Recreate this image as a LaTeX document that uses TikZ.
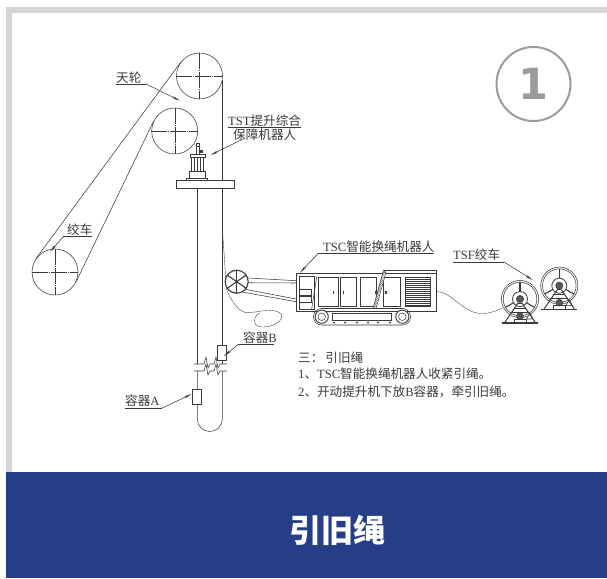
\documentclass[tikz,border=0pt]{standalone}
\usepackage{fontspec}
\setmainfont{Liberation Serif}
\newfontfamily\cjk{Noto Sans CJK SC}
\newfontfamily\numfont{DejaVu Sans}
\usetikzlibrary{arrows.meta}
\definecolor{framegray}{HTML}{D4D5D6}
\definecolor{bandblue}{HTML}{263E87}
\definecolor{markgray}{HTML}{9A9B9D}
\definecolor{inkgray}{HTML}{3A3A3A}
\tikzset{
  wire/.style={draw=inkgray,line width=.55pt},
  fine/.style={draw=inkgray,line width=.35pt},
  lead/.style={draw=inkgray,line width=.55pt,-{Stealth[length=8pt,width=2.4pt]}},
  sheave/.style={circle,draw=inkgray,line width=.55pt,minimum size=46pt,inner sep=0pt},
  label/.style={font=\fontsize{12.6}{13}\selectfont,text=inkgray,inner sep=0pt,anchor=west},
  center line/.style={draw=inkgray,line width=.35pt,dash pattern=on 16pt off 1pt on 1pt off 1pt}
}
% one reel of the TSF winch, #1 = centre
\newcommand{\tsfreel}[1]{
  \begin{scope}[shift={#1}]
    \draw[wire] (0,0) circle [radius=18.6];
    \draw[wire] (0,0) circle [radius=16.8];
    \draw[wire,line width=.8pt] (0,0) circle [radius=7.5];
    \draw[wire,fill=inkgray!85] (0,0) circle [radius=3.6];
    \foreach \ang in {30,150,270}
      \draw[wire,line width=1.1pt] (\ang:7.5) -- (\ang:17);
    \draw[wire,line width=1pt] (-2,4) -- (-15,23) (2,4) -- (15,23);
    \draw[wire,line width=.8pt] (-2,4) -- (2,4) (-6,9) -- (6,9) (-9,13) -- (9,13);
    \draw[wire,line width=1.8pt] (-18,23.8) -- (18,23.8);
    \draw[wire,fill=inkgray!85] (0,17) circle [radius=3.4];
    \draw[wire] (6.5,20) -- (10,14) -- (13,20) -- cycle;
    \draw[wire] (-6,23) -- (-6,20) -- (6,20) -- (6,23);
  \end{scope}
}
\begin{document}
\begin{tikzpicture}[x=1pt,y=-1pt]
  \useasboundingbox (0,0) rectangle (607,578);
  % frame and band
  \fill[framegray] (6,7) rectangle (607,13);
  \fill[framegray] (6,7) rectangle (11.6,472);
  \fill[bandblue] (6,472) rectangle (607,578);
  \node[text=white,inner sep=0pt,font=\cjk\bfseries\fontsize{32}{34}\selectfont] (title) at (337,530) {引旧绳};
  \node[circle,draw=markgray,line width=2pt,minimum size=74pt,inner sep=0pt,text=markgray,
    font=\numfont\bfseries\fontsize{43}{45}\selectfont] (step) at (533.5,84) {1};

  % sheaves and winch
  \node[sheave] (top) at (199.5,76) {};
  \node[sheave] (second) at (174.7,131) {};
  \node[sheave] (winch) at (55,272) {};
  \foreach \wheel in {top,second,winch}{
    \path[center line] (\wheel.west) -- (\wheel.east);
    \path[center line] (\wheel.north) -- (\wheel.south);
  }
  \path[wire] (top.143) -- (winch.143);
  \path[wire] (second.154) -- (winch.-26);

  % shaft
  \coordinate (leftA) at (197.3,188);
  \coordinate (leftB) at (197.3,364);
  \coordinate (leftC) at (197.3,371);
  \coordinate (leftD) at (197.3,419);
  \coordinate (rightA) at (222.3,80);
  \coordinate (rightB) at (222.3,364);
  \coordinate (rightC) at (222.3,371);
  \coordinate (rightD) at (222.3,419);
  \path[wire] (leftA) -- (leftB);
  \path[wire] (rightA) -- (rightB);
  \path[wire] (leftC) -- (leftD) arc [start angle=180,end angle=360,x radius=12.5,y radius=-12.5] -- (rightC);
  \foreach \yy in {364,371}
    \draw[wire] (194,\yy) -- (204,\yy) -- (206,\yy-7) -- (208,\yy+4) -- (210,\yy) -- (214,\yy) -- (216,\yy-7) -- (218,\yy+4) -- (220,\yy) -- (227,\yy);
  \node[draw=inkgray,fill=white,line width=.55pt,inner sep=0pt,minimum width=9pt,minimum height=15pt] (boxB) at (222.2,352.5) {};
  \node[draw=inkgray,fill=white,line width=.55pt,inner sep=0pt,minimum width=9pt,minimum height=15.5pt] (boxA) at (196.8,396.8) {};

  % platform and TST robot
  \node[draw=inkgray,fill=white,line width=.55pt,inner sep=0pt,minimum width=57.5pt,minimum height=7.6pt] (deck) at (205.4,184.5) {};
  \draw[wire] (186.7,180.7) -- (186.7,178) -- (207.7,178) -- (207.7,180.7);
  \draw[wire] (189,178) -- (189,171.7) -- (205,171.7) -- (205,178);
  \draw[wire] (191.7,171.7) -- (191.7,157) (203,171.7) -- (203,157);
  \draw[wire] (190,154) rectangle (205,157);
  \draw[wire,line width=.9pt] (194.5,171.7) -- (194.5,157) (197.5,171.7) -- (197.5,157) (200.5,171.7) -- (200.5,157);
  \draw[wire] (196,154) -- (196,143) -- (199,143) -- (199,154);
  \fill[inkgray] (199,149.5) rectangle (202.5,152.5);
  \draw[wire,line width=.9pt] (195.5,146) -- (199.5,146);

  % TSC machine
  \draw[wire] (296,273.3) rectangle (436,311.7);
  \draw[wire] (383,270.7) -- (436,270.7) -- (436,273.3);
  \draw[wire,line width=1pt] (436,271) -- (436,311.7);
  \draw[wire] (299,276.7) rectangle (314,309);
  \draw[wire] (299,289) rectangle (311,295);
  \draw[wire] (299,296.5) rectangle (311,302);
  \draw[wire] (316.7,276.7) -- (311.7,309);
  \foreach \xa/\xb in {318.3/338.3,340.7/356,360.7/376.7,383.3/400}
    \draw[wire] (\xa,277.3) rectangle (\xb,306.7);
  \foreach \xx in {332.5,342.5,374.5,385}
    \fill[inkgray] (\xx,290.5) rectangle (\xx+1.6,293.5);
  \draw[wire] (405,277.3) rectangle (430.7,306.7);
  \foreach \yy in {279,281,...,305}
    \draw[fine] (405,\yy) -- (430.7,\yy);
  \draw[wire,fill=white] (383,272) -- (386,272) -- (376,308.5) -- (373,308.5) -- cycle;
  \foreach \tt in {0,.07,...,1}
    \draw[fine] ({373+\tt*10},{308.5-\tt*36.5}) -- ({376+\tt*10},{305.5-\tt*36.5});
  % crawler
  \draw[wire,rounded corners=8pt] (313.5,308.5) rectangle (410.5,325);
  \draw[wire] (332,313) rectangle (391.7,320.7);
  \foreach \xx in {321.7,402.3}{
    \draw[wire,line width=.9pt,fill=white] (\xx,316.7) circle [radius=6.6];
    \draw[wire] (\xx,316.7) circle [radius=3.8];
  }
  \foreach \xx in {334,345,357,368,378,390}
    \fill[inkgray] (\xx,322.6) circle [radius=1.1];

  % pulley at the machine
  \node[circle,draw=inkgray,line width=1.1pt,minimum size=23pt,inner sep=0pt] (pulley) at (236.7,281.7) {};
  \foreach \ang in {35,145,215,325}
    \draw[wire,line width=1.1pt] (pulley.center) -- (pulley.\ang);
  \draw[wire] (pulley.90) -- (pulley.-90);
  \coordinate (machTop) at (296,280.7);
  \coordinate (machTopB) at (296,283);
  \coordinate (machLow) at (296,299);
  \coordinate (machLowB) at (296,301.7);
  \draw[wire] (pulley.18) -- (machTop) (pulley.-5) -- (machTopB);
  \draw[wire] (pulley.-40) -- (machLow) (pulley.-60) -- (machLowB);
  % slack of the old rope
  \draw[fine] (222.3,230) .. controls (224,250) and (225,268) .. (226,281);
  \draw[fine] (226,288) .. controls (232,304) and (240,312) .. (247,312.7)
    .. controls (256,313) and (276,306) .. (281.7,315)
    .. controls (283,322) and (272,327) .. (263,327)
    .. controls (256,327) and (253,323) .. (255,318)
    .. controls (256,315) and (258,313.5) .. (260,312.7);
  % cable to the TSF winch
  \coordinate (cableA) at (436.7,291.5);
  \coordinate (cableB) at (501.7,308.3);
  \draw[fine] (cableA) .. controls (452,292) and (462,312) .. (480,313.5) .. controls (488,314) and (496,311) .. (cableB);
  \tsfreel{(559.3,285.7)}
  \tsfreel{(520,299)}

  % labels
  \node[label] (tianlun) at (116,77.5) {\cjk 天轮};
  \coordinate (tianlunA) at (116,84);
  \coordinate (tianlunB) at (146,84);
  \coordinate (tianlunTip) at (180,100.7);
  \draw[wire] (tianlunA) -- (tianlunB);
  \draw[lead] (tianlunB) -- (tianlunTip);

  \node[label] (tst) at (228,120.5) {TST{\cjk 提升综合}};
  \node[label] (tstB) at (233,134.5) {\cjk 保障机器人};
  \coordinate (tstA) at (228,127.7);
  \coordinate (tstC) at (301,127.7);
  \coordinate (tstD) at (243,139);
  \coordinate (tstTip) at (210.7,155);
  \draw[wire] (tstA) -- (tstC);
  \draw[lead] (tstD) -- (tstTip);

  \node[label] (jiaoche) at (67,229.5) {\cjk 绞车};
  \coordinate (jiaocheA) at (91.7,236.7);
  \coordinate (jiaocheB) at (63.3,236.7);
  \coordinate (jiaocheTip) at (50,251.7);
  \draw[wire] (jiaocheA) -- (jiaocheB);
  \draw[lead] (jiaocheB) -- (jiaocheTip);

  \node[label] (tsc) at (323,246.5) {TSC{\cjk 智能换绳机器人}};
  \coordinate (tscA) at (434,253.3);
  \coordinate (tscB) at (318.3,253.3);
  \coordinate (tscTip) at (300,272.7);
  \draw[wire] (tscA) -- (tscB);
  \draw[lead] (tscB) -- (tscTip);

  \node[label] (tsf) at (453,254.5) {TSF{\cjk 绞车}};
  \coordinate (tsfA) at (453,262);
  \coordinate (tsfB) at (504,262);
  \coordinate (tsfTip) at (532.7,280);
  \draw[wire] (tsfA) -- (tsfB);
  \draw[lead] (tsfB) -- (tsfTip);

  \node[label] (rongB) at (243,338) {{\cjk 容器}B};
  \coordinate (rongBA) at (274,344.3);
  \coordinate (rongBB) at (238.3,344.3);
  \coordinate (rongBTip) at (224,356);
  \draw[wire] (rongBA) -- (rongBB);
  \draw[lead] (rongBB) -- (rongBTip);

  \node[label] (rongA) at (125,400.5) {{\cjk 容器}A};
  \coordinate (rongAA) at (125,408.3);
  \coordinate (rongAB) at (161.7,408.3);
  \coordinate (rongATip) at (191.7,394);
  \draw[wire] (rongAA) -- (rongAB);
  \draw[lead] (rongAB) -- (rongATip);

  % notes
  \node[label] (noteA) at (298,357.5) {\cjk 三：\,引旧绳};
  \node[label] (noteB) at (298,373.5) {1{\cjk 、}TSC{\cjk 智能换绳机器人收紧引绳。}};
  \node[label] (noteC) at (298,391.5) {2{\cjk 、开动提升机下放}B{\cjk 容器，牵引旧绳。}};
\end{tikzpicture}
\end{document}
